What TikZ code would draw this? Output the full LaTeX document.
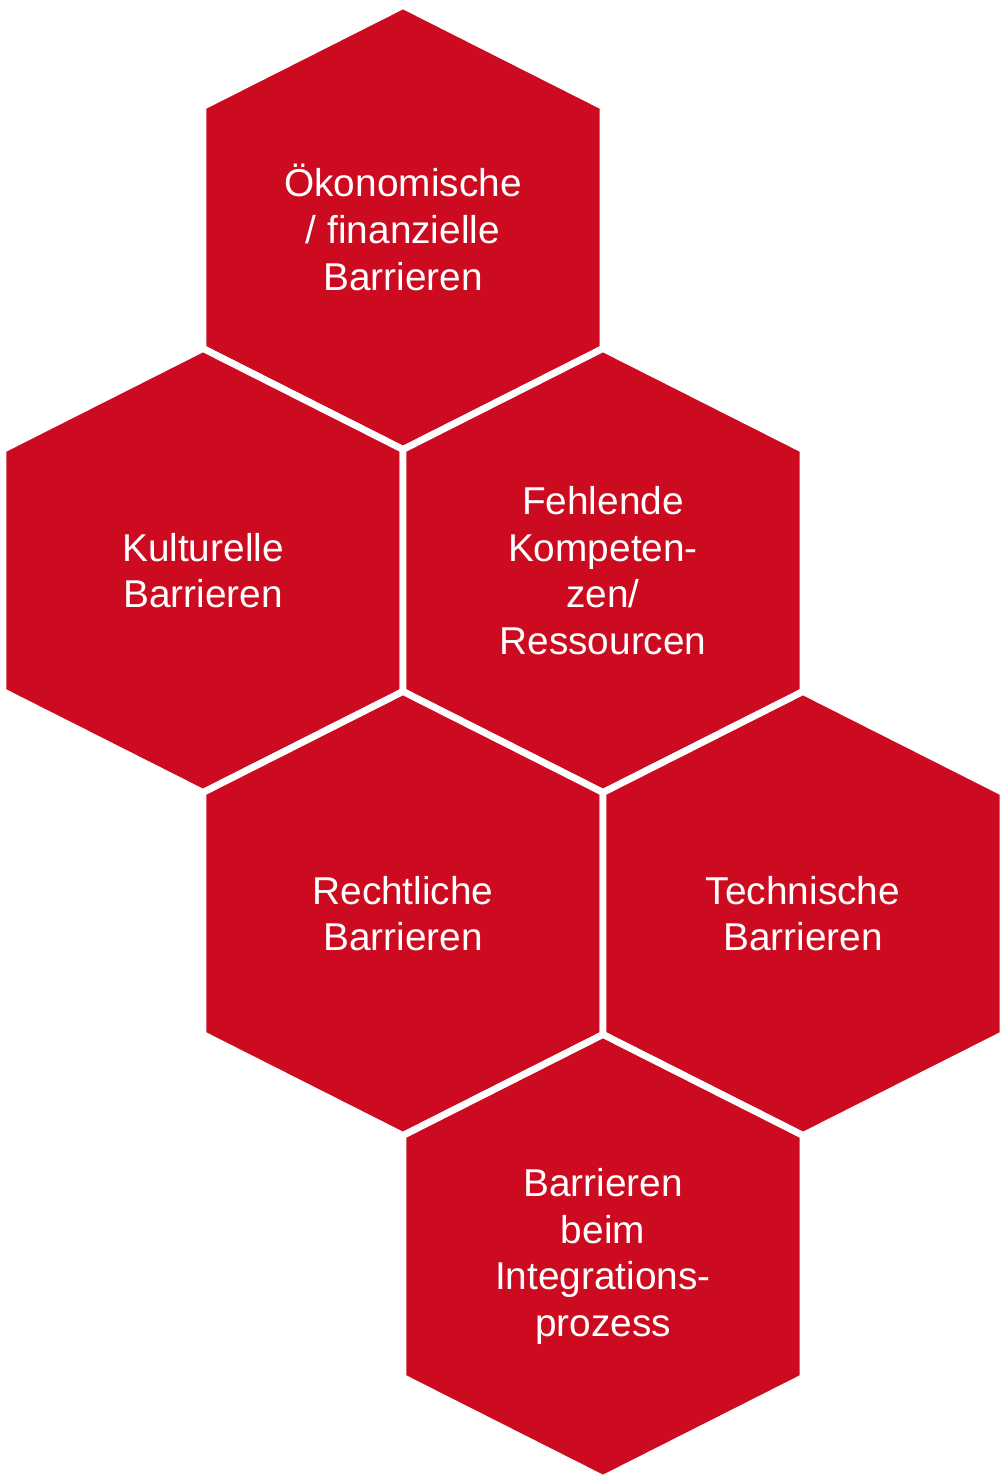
\documentclass[tikz,border=0pt]{standalone}
\usepackage{fontspec}
\setmainfont{Liberation Sans}
\usetikzlibrary{positioning}
\definecolor{wabenrot}{RGB}{204,11,32}
\newcommand\wabe[1]{%
\filldraw[wabe] (#1) ++(0,-\R) -- ++(\W,\D) -- ++(0,\S) -- ++(-\W,\D) -- ++(-\W,-\D) -- ++(0,-\S) -- cycle;
}

\begin{document}
\begin{tikzpicture}[x=0.5pt,y=-0.5pt,
	wabe/.style={fill=wabenrot,draw=white,line width=3.4pt,line join=miter},
	wabentext/.style={text=white,align=center,inner sep=0pt,font=\fontsize{19.4}{23.3}\selectfont}]
	%% some definitions
	\def\W{200} % half width
	\def\R{222} % centre to top
	\def\D{101} % rise of the slanted sides
	\def\S{242} % vertical side
	
	\useasboundingbox (0,0) rectangle (1006,1484);
	
	\coordinate (oek) at (403,227.5);
	\coordinate (kul) at (203,570.5);
	\coordinate (feh) at (603,570.5);
	\coordinate (rec) at (403,913.5);
	\coordinate (tec) at (803,913.5);
	\coordinate (int) at (603,1256.5);
	
	\wabe{oek}
	\wabe{kul}
	\wabe{feh}
	\wabe{rec}
	\wabe{tec}
	\wabe{int}
	
	\node[wabentext] (oektext) at (oek) {Ökonomische\\/ finanzielle\\Barrieren};
	\node[wabentext] (kultext) at (kul) {Kulturelle\\Barrieren};
	\node[wabentext] (fehtext) at (feh) {Fehlende\\Kompeten-\\zen/\\Ressourcen};
	\node[wabentext] (rectext) at (rec) {Rechtliche\\Barrieren};
	\node[wabentext] (tectext) at (tec) {Technische\\Barrieren};
	\node[wabentext] (inttext) at (int) {Barrieren\\beim\\Integrations-\\prozess};
\end{tikzpicture}
\end{document}
